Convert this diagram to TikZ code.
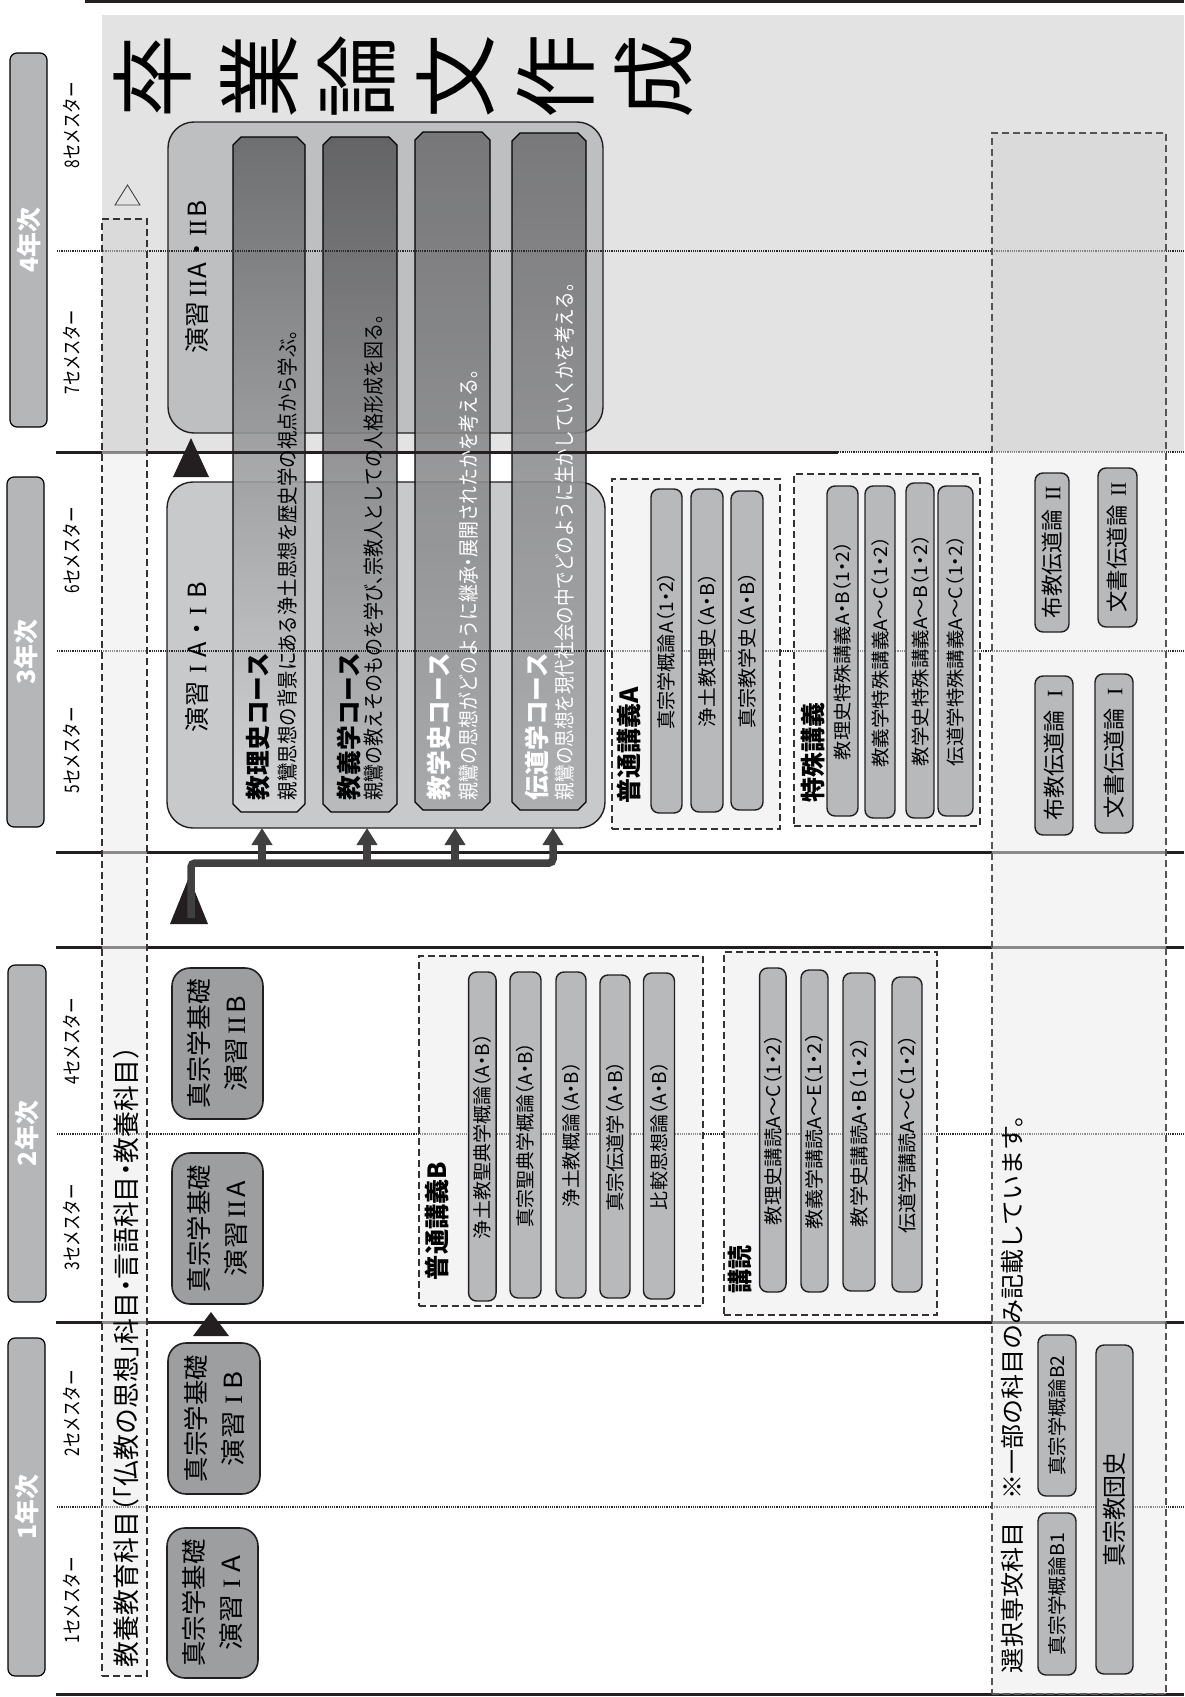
\documentclass[tikz,border=0pt]{standalone}
\usepackage{fontspec}
\setmainfont{Noto Sans CJK JP}[RawFeature=+halt]
\newfontfamily\rnfont{Liberation Serif}
\newcommand\rn[1]{{\rnfont #1}}
\usetikzlibrary{arrows.meta}
\definecolor{bggray}{HTML}{E3E3E3}
\definecolor{pillgray}{HTML}{B8B9BB}
\definecolor{kgray}{HTML}{9D9EA0}
\definecolor{yeargray}{HTML}{B5B6B8}
\definecolor{box4c}{HTML}{BEBFC1}
\definecolor{box3c}{HTML}{C8C9CB}
\definecolor{boxw}{HTML}{EBEBEB}
\definecolor{boxg}{HTML}{D2D2D2}
\definecolor{dashc}{HTML}{333333}
\definecolor{dashc2}{HTML}{555555}
\definecolor{linec}{HTML}{231F20}
\definecolor{dotc}{HTML}{2A2A2A}
\definecolor{conncol}{HTML}{404040}
\definecolor{s1t}{HTML}{646567}
\definecolor{s1b}{HTML}{D6D7D9}
\definecolor{s2t}{HTML}{58585A}
\definecolor{s2b}{HTML}{B9BABC}
\definecolor{s3t}{HTML}{6E6E70}
\definecolor{s3b}{HTML}{A5A6A8}
\definecolor{s4t}{HTML}{707072}
\definecolor{s4b}{HTML}{ABACAE}
\newcommand\fitt[3]{\resizebox{#2pt}{\height}{\fontsize{#1pt}{#1pt}\selectfont #3}}
\newcommand\stripshape[6]{%
  \path[draw=black, line width=1.2pt, top color=#5, bottom color=#6, fill opacity=0.88]
  (#1,#3+8) -- (#1+8,#3) -- (#2-8,#3) -- (#2,#3+8) -- (#2,#4-8) -- (#2-8,#4) -- (#1+8,#4) -- (#1,#4-8) -- cycle;}
\tikzset{
  yearbox/.style={draw=black, line width=1.2pt, fill=yeargray, rounded corners=7pt, rotate=90, text=white},
  pill/.style={draw=linec, line width=1.4pt, fill=pillgray, rounded corners=8pt, rotate=90},
  kbox/.style={draw=linec, line width=1.6pt, fill=kgray, rounded corners=18pt, rotate=90, align=center, font=\fontsize{25pt}{37pt}\selectfont},
  bigbox/.style={draw=linec, line width=1.4pt, rounded corners=26pt},
  dbox/.style={draw=dashc, line width=1.4pt, dash pattern=on 7pt off 4pt},
  dfill/.style={fill=boxw, fill opacity=0.52},
  vt/.style={rotate=90},
  hline/.style={line width=3pt, draw=linec},
  dline/.style={line width=2.5pt, draw=dotc, dash pattern=on 1.1pt off 1.1pt},
  conn/.style={draw=conncol, line width=7.5pt},
  arrowtip/.style={-{Triangle[width=20pt,length=17pt]}},
}
\begin{document}
\begin{tikzpicture}[x=1pt,y=-1pt, every node/.style={inner sep=0pt, outer sep=0pt}]
\useasboundingbox (0,0) rectangle (1184,1697);
\fill[white] (0,0) rectangle (1184,1697);
\fill[bggray] (102,15) rectangle (1184,452);

% big seminar boxes
\node[bigbox, fill=box4c, minimum width=435pt, minimum height=311pt] (box4) at (385.5,277.5) {};
\node[bigbox, fill=box3c, minimum width=438pt, minimum height=346pt] (box3) at (386,655) {};

% course strips
\stripshape{233}{305}{137}{812}{s1t}{s1b}
\stripshape{323}{397}{137}{812}{s2t}{s2b}
\stripshape{415}{490}{132}{810}{s3t}{s3b}
\stripshape{512}{586}{133}{810}{s4t}{s4b}

% grid lines
\draw[hline] (85,1.5) -- (1184,1.5);
\draw[hline] (56,452) -- (838,452);
\draw[dline] (838,452) -- (1184,452);
\draw[hline] (56,852) -- (1184,852);
\draw[hline] (56,947) -- (1184,947);
\draw[hline] (56,1322) -- (1184,1322);
\draw[hline] (56,1694.5) -- (1184,1694.5);
\foreach \yy in {251,651,1134,1507} \draw[dline] (57,\yy) -- (1184,\yy);

% dashed group boxes
\fill[boxg, fill opacity=0.52] (102,219) rectangle (147,452);
\fill[boxw, fill opacity=0.52] (102,452) rectangle (147,1676);
\node[dbox, minimum width=45pt, minimum height=1457pt] (kyb) at (124.5,947.5) {};
\fill[boxg, fill opacity=0.52] (992,133) rectangle (1166,452);
\fill[boxw, fill opacity=0.52] (992,452) rectangle (1166,1694);
\node[dbox, draw=dashc2, minimum width=174pt, minimum height=1561pt] (senb) at (1079,913.5) {};
\node[dbox, dfill, minimum width=168pt, minimum height=350pt] (gAb) at (696,654) {};
\node[dbox, dfill, minimum width=186pt, minimum height=352pt] (tkb) at (887,650) {};
\node[dbox, dfill, minimum width=284pt, minimum height=350pt] (gBb) at (561,1131) {};
\node[dbox, dfill, minimum width=213pt, minimum height=363pt] (kdb) at (830.5,1133.5) {};

% year boxes
\node[yearbox, minimum width=374pt, minimum height=37pt] (y4) at (28.5,240) {\fitt{25}{65}{\bfseries 4年次}};
\node[yearbox, minimum width=350pt, minimum height=37pt] (y3) at (25.5,652) {\fitt{25}{65}{\bfseries 3年次}};
\node[yearbox, minimum width=337pt, minimum height=38pt] (y2) at (27,1133.5) {\fitt{25}{65}{\bfseries 2年次}};
\node[yearbox, minimum width=338pt, minimum height=37pt] (y1) at (26.5,1507) {\fitt{25}{65}{\bfseries 1年次}};

% semester labels
\node[vt] (s8) at (72,125) {\fitt{20}{86}{8セメスター}};
\node[vt] (s7) at (72,352) {\fitt{20}{84}{7セメスター}};
\node[vt] (s6) at (72,550) {\fitt{20}{86}{6セメスター}};
\node[vt] (s5) at (72,750) {\fitt{20}{86}{5セメスター}};
\node[vt] (s4) at (72,1041) {\fitt{20}{86}{4セメスター}};
\node[vt] (s3) at (72,1227) {\fitt{20}{86}{3セメスター}};
\node[vt] (s2) at (72,1413) {\fitt{20}{86}{2セメスター}};
\node[vt] (s1) at (72,1600) {\fitt{20}{86}{1セメスター}};

% general education text and hollow triangle
\node[vt, anchor=west] (kyt) at (126.5,1667) {\fitt{27}{620}{教養教育科目（「仏教の思想」科目・言語科目・教養科目）}};
\draw[line width=0.9pt, draw=black!75] (115,205) -- (140,205) -- (127.5,185) -- cycle;

% title
\foreach \ch/\xx [count=\i] in {卒/153,業/260,論/357,文/456,作/556,成/654}
  \node[rotate=90] (t\i) at (\xx,76) {\fontsize{84pt}{84pt}\selectfont \ch};

% seminar titles
\node[vt] (box4t) at (197,277) {\fitt{25}{153}{演習\hspace{4pt}\rn{II}\hspace{2pt}A\hspace{6pt}・\hspace{6pt}\rn{II}\hspace{2pt}B}};
\node[vt] (box3t) at (197,657) {\fitt{25}{150}{演習\hspace{8pt}\rn{I}\hspace{8pt}A\hspace{6pt}・\hspace{8pt}\rn{I}\hspace{8pt}B}};

% strip texts
\node[vt, anchor=west] (c1h) at (258.5,800) {\fitt{25}{147}{\bfseries 教理史コース}};
\node[vt, anchor=west] (c1d) at (287,800) {\fitt{21}{470}{親鸞思想の背景にある浄土思想を歴史学の視点から学ぶ。}};
\node[vt, anchor=west] (c2h) at (348.5,800) {\fitt{25}{147}{\bfseries 教義学コース}};
\node[vt, anchor=west] (c2d) at (374,800) {\fitt{21}{485}{親鸞の教えそのものを学び、宗教人としての人格形成を図る。}};
\node[vt, anchor=west, text=white] (c3h) at (438.5,800) {\fitt{25}{147}{\bfseries 教学史コース}};
\node[vt, anchor=west, text=white] (c3d) at (468,800) {\fitt{21}{430}{親鸞の思想がどのように継承・展開されたかを考える。}};
\node[vt, anchor=west, text=white] (c4h) at (536.5,800) {\fitt{25}{147}{\bfseries 伝道学コース}};
\node[vt, anchor=west, text=white] (c4d) at (565,800) {\fitt{21}{517}{親鸞の思想を現代社会の中でどのように生かしていくかを考える。}};

% basic seminar boxes
\node[kbox, minimum width=151pt, minimum height=91pt] (k2B) at (217.5,1043.5) {\fitt{25}{129}{真宗学基礎}\\\fitt{25}{95}{演習\hspace{3pt}\rn{II}\hspace{3pt}B}};
\node[kbox, minimum width=151pt, minimum height=91pt] (k2A) at (217.5,1228.5) {\fitt{25}{127}{真宗学基礎}\\\fitt{25}{95}{演習\hspace{3pt}\rn{II}\hspace{3pt}A}};
\node[kbox, minimum width=151pt, minimum height=92pt] (k1B) at (214,1418.5) {\fitt{25}{127}{真宗学基礎}\\\fitt{25}{95}{演習\hspace{6pt}\rn{I}\hspace{6pt}B}};
\node[kbox, minimum width=150pt, minimum height=91pt] (k1A) at (212.5,1603) {\fitt{25}{127}{真宗学基礎}\\\fitt{25}{95}{演習\hspace{6pt}\rn{I}\hspace{6pt}A}};

% 普通講義A
\node[vt, anchor=west] (gAt) at (629,803) {\fitt{25}{116}{\bfseries 普通講義A}};
\node[pill, minimum width=324pt, minimum height=31pt] (pA1) at (666.5,651) {\fitt{19}{157}{真宗学概論A（1・2）}};
\node[pill, minimum width=323pt, minimum height=32pt] (pA2) at (707,650.5) {\fitt{19}{153}{浄土教理史（A・B）}};
\node[pill, minimum width=319pt, minimum height=32pt] (pA3) at (747,650.5) {\fitt{19}{156}{真宗教学史（A・B）}};

% 特殊講義
\node[vt, anchor=west] (tkt) at (813,802) {\fitt{25}{100}{\bfseries 特殊講義}};
\node[pill, minimum width=330pt, minimum height=31pt] (pS1) at (842.5,651) {\fitt{18.5}{218}{教理史特殊講義A・B（1・2）}};
\node[pill, minimum width=332pt, minimum height=30pt] (pS2) at (880,652) {\fitt{18.5}{231}{教義学特殊講義A〜C（1・2）}};
\node[pill, minimum width=335pt, minimum height=28pt] (pS3) at (920,650.5) {\fitt{18.5}{231}{教学史特殊講義A〜B（1・2）}};
\node[pill, minimum width=330pt, minimum height=35pt] (pS4) at (955.5,651) {\fitt{18.5}{230}{伝道学特殊講義A〜C（1・2）}};

% 普通講義B
\node[vt, anchor=west] (gBt) at (437,1280) {\fitt{25}{118}{\bfseries 普通講義B}};
\node[pill, minimum width=329pt, minimum height=27.5pt] (pB1) at (482.3,1136.5) {\fitt{19}{205}{浄土教聖典学概論（A・B）}};
\node[pill, minimum width=326pt, minimum height=31pt] (pB2) at (525.5,1135) {\fitt{19}{184}{真宗聖典学概論（A・B）}};
\node[pill, minimum width=326pt, minimum height=30pt] (pB3) at (571,1135) {\fitt{19}{145}{浄土教概論（A・B）}};
\node[pill, minimum width=323pt, minimum height=30pt] (pB4) at (615,1136.5) {\fitt{19}{150}{真宗伝道学（A・B）}};
\node[pill, minimum width=326pt, minimum height=31pt] (pB5) at (659,1136) {\fitt{19}{148}{比較思想論（A・B）}};

% 講読
\node[vt, anchor=west] (kdt) at (740,1293) {\fitt{25}{48}{\bfseries 講読}};
\node[pill, minimum width=324pt, minimum height=26.5pt] (pR1) at (772.8,1130) {\fitt{19}{190}{教理史講読A〜C（1・2）}};
\node[pill, minimum width=322pt, minimum height=27pt] (pR2) at (814.5,1131) {\fitt{19}{196}{教義学講読A〜E（1・2）}};
\node[pill, minimum width=318pt, minimum height=32pt] (pR3) at (859,1132) {\fitt{19}{190}{教学史講読A・B（1・2）}};
\node[pill, minimum width=315pt, minimum height=30pt] (pR4) at (907,1134.5) {\fitt{19}{198}{伝道学講読A〜C（1・2）}};

% 選択専攻科目
\node[vt, anchor=west] (sent) at (1012,1673) {\fitt{24}{558}{選択専攻科目\hspace{22pt}※一部の科目のみ記載しています。}};
\node[pill, minimum width=159pt, minimum height=34pt] (pF2) at (1052,552.5) {\fitt{22}{132}{布教伝道論\hspace{9pt}\rn{II}}};
\node[pill, minimum width=159pt, minimum height=39pt] (pW2) at (1117.5,547.5) {\fitt{22}{130}{文書伝道論\hspace{9pt}\rn{II}}};
\node[pill, minimum width=159pt, minimum height=38pt] (pF1) at (1054,755.5) {\fitt{22}{130}{布教伝道論\hspace{12pt}\rn{I}}};
\node[pill, minimum width=159pt, minimum height=38pt] (pW1) at (1114,753.5) {\fitt{22}{130}{文書伝道論\hspace{12pt}\rn{I}}};
\node[pill, minimum width=161pt, minimum height=38pt] (pG2) at (1057,1415.5) {\fitt{19}{120}{真宗学概論B2}};
\node[pill, minimum width=162pt, minimum height=38pt] (pG1) at (1057,1594) {\fitt{19}{122}{真宗学概論B1}};
\node[pill, minimum width=329pt, minimum height=37pt] (pKd) at (1114.5,1509.5) {\fitt{24}{114}{真宗教団史}};

% black progress triangles
\fill[linec] (173,477) -- (209,477) -- (191,438) -- cycle;
\fill[linec] (170,924) -- (208,924) -- (189,877) -- cycle;
\fill[linec] (193,1336) -- (229,1336) -- (211,1312) -- cycle;

% connector from basic seminar to courses
\coordinate (j0) at (191,918);
\coordinate (b1) at (262,863);
\coordinate (b2) at (367,863);
\coordinate (b3) at (455,863);
\coordinate (b4) at (553,863);
\draw[conn, arrowtip, rounded corners=4pt] (j0) |- (b4) -- (b4 |- box3.south);
\foreach \b in {b1,b2,b3} \draw[conn, arrowtip] (\b) -- (\b |- box3.south);
\end{tikzpicture}
\end{document}
